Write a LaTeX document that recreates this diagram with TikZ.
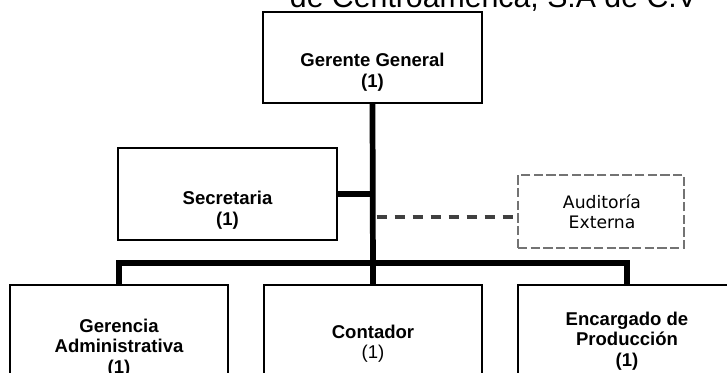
\documentclass[tikz,border=0pt]{standalone}
\usepackage{fontspec}
\setmainfont{Liberation Sans}
\newfontfamily\audfont{DejaVu Sans}

\begin{document}
\begin{tikzpicture}[x=0.75pt,y=-0.75pt,
  box/.style={draw,line width=1.2pt,inner sep=0pt,minimum width=164.25pt},
  lbl/.style={align=center,inner sep=0pt,font=\fontsize{13.9}{15.4}\selectfont\bfseries},
  conn/.style={line width=4.3pt},
  dashline/.style={line width=2.3pt,draw=black!75,dash pattern=on 7.5pt off 6pt}]
\useasboundingbox (0,0) rectangle (727,373);
\clip (0,0) rectangle (727,373);

% title (cut at the top)
\node[anchor=base,inner sep=0pt,font=\fontsize{22.7}{27}\selectfont] (title) at (493.5,7.5) {de Centroamérica, S.A de C.V};

% boxes
\node[box,minimum height=68.25pt] (gg) at (372.5,57.5) {};
\node[box,minimum height=69pt] (sec) at (227.5,194) {};
\node[box,draw=black!55,line width=1.6pt,dash pattern=on 7pt off 2.5pt,minimum width=124.5pt,minimum height=54.75pt] (aud) at (601,211.5) {};
\node[box,minimum width=163.5pt,minimum height=101.25pt] (ga) at (119,352.5) {};
\node[box,minimum width=163.5pt,minimum height=101.25pt] (ct) at (373,352.5) {};
\node[box,minimum width=163.5pt,minimum height=101.25pt] (ep) at (627,352.5) {};

% texts
\node[lbl] (ggtxt) at (372.5,72) {Gerente General\\(1)};
\node[lbl] (sectxt) at (227.5,210) {Secretaria\\(1)};
\node[align=center,inner sep=0pt,text=black,font=\audfont\fontsize{12.9}{15}\selectfont] (audtxt) at (602,212) {Auditoría\\Externa};
\node[lbl] (gatxt) at (119,348) {Gerencia\\Administrativa\\(1)};
\node[lbl] (cttxt) at (373,343.5) {Contador\\{\mdseries (1)}};
\node[lbl] (eptxt) at (627,341) {Encargado de\\Producción\\(1)};

% connectors
\coordinate (busc) at (372.5,263);
\coordinate (audin) at (518,217);
\draw[conn] (gg.south) -- (ct.north);
\draw[conn] (ga.north) |- (busc) -| (ep.north);
\draw[conn] (sec.east) -- (sec.east -| gg.south);
\draw[dashline] ([xshift=3pt]audin -| gg.south) -- (audin);
\end{tikzpicture}
\end{document}
